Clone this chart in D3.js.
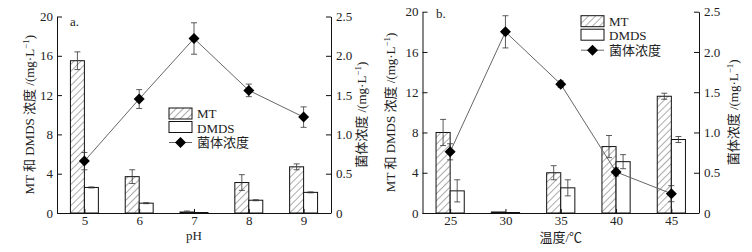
<!DOCTYPE html>
<html>
<head>
<meta charset="utf-8">
<script src="https://cdn.jsdelivr.net/npm/d3@7"></script>
<style>
    body { margin: 0; background: #fff; }
    .axis path, .axis line { stroke: #111; }
</style>
</head>
<body>
<div id="main_div" style="width:752px;height:252px"></div>
<script>
/** data: panel a (pH) **/
const phCats = ["5", "6", "7", "8", "9"];
const phMT = [15.5, 3.7, 0.1, 3.1, 4.7];
const phMTErr = [0.9, 0.7, 0.1, 0.8, 0.3];
const phDMDS = [2.6, 1.0, 0.05, 1.3, 2.1];
const phDMDSErr = [0.05, 0.05, 0, 0.05, 0.05];
const phCell = [0.66, 1.45, 2.22, 1.56, 1.22];
const phCellErr = [0.11, 0.12, 0.2, 0.08, 0.13];

/** data: panel b (temperature) **/
const tCats = ["25", "30", "35", "40", "45"];
const tMT = [8.0, 0.1, 4.0, 6.6, 11.6];
const tMTErr = [1.3, 0, 0.7, 1.1, 0.3];
const tDMDS = [2.2, 0.05, 2.5, 5.1, 7.3];
const tDMDSErr = [1.1, 0, 0.8, 0.7, 0.3];
const tCell = [0.76, 2.25, 1.60, 0.51, 0.24];
const tCellErr = [0.1, 0.2, 0.04, 0.05, 0.1];

const leftTicks = [0, 4, 8, 12, 16, 20];
const rightTicks = [0, 0.5, 1.0, 1.5, 2.0, 2.5];

const FONT = "'Liberation Serif', 'Times New Roman', 'Noto Sans CJK SC', serif";

let svg = d3.select("#main_div").append("svg")
    .attr("width", 752).attr("height", 252)
    .attr("font-family", FONT);

// hatch for MT bars
svg.append("defs").append("pattern")
    .attr("id", "hatch")
    .attr("patternUnits", "userSpaceOnUse")
    .attr("width", 5).attr("height", 5)
    .attr("patternTransform", "rotate(45)")
    .append("line")
    .attr("x1", 0).attr("y1", 0).attr("x2", 0).attr("y2", 5)
    .attr("stroke", "#444").attr("stroke-width", 0.9);

drawPanel({
    x0: 57, x1: 331, yTop: 16.5, yBot: 213,
    cats: phCats, mt: phMT, mtErr: phMTErr, dmds: phDMDS, dmdsErr: phDMDSErr,
    cell: phCell, cellErr: phCellErr,
    tag: "a.", tagX: 70, tagY: 26,
    xTitle: "pH", xTitleY: 240,
    leftTitleX: 29, rightTitleX: 361,
    legX: 169, legY: 108
});

drawPanel({
    x0: 422.5, x1: 699, yTop: 11.7, yBot: 213,
    cats: tCats, mt: tMT, mtErr: tMTErr, dmds: tDMDS, dmdsErr: tDMDSErr,
    cell: tCell, cellErr: tCellErr,
    tag: "b.", tagX: 436, tagY: 18,
    xTitle: "温度/℃", xTitleY: 242,
    leftTitleX: 390, rightTitleX: 733,
    legX: 581, legY: 15.7
});

// serif everywhere, overriding the axis default
svg.selectAll("text").style("font-family", FONT).style("fill", "#222");

function diamond(g, cx, cy, r) {
    g.append("path")
        .attr("d", "M" + cx + "," + (cy - r) + "L" + (cx + r) + "," + cy +
            "L" + cx + "," + (cy + r) + "L" + (cx - r) + "," + cy + "Z")
        .attr("fill", "#000");
}

function errBar(g, cx, y1, y2) {
    g.append("line").attr("x1", cx).attr("x2", cx).attr("y1", y1).attr("y2", y2)
        .attr("stroke", "#333").attr("stroke-width", 0.8);
    [y1, y2].forEach(function (y) {
        g.append("line").attr("x1", cx - 3).attr("x2", cx + 3).attr("y1", y).attr("y2", y)
            .attr("stroke", "#333").attr("stroke-width", 0.8);
    });
}

function drawPanel(c) {
    let g = svg.append("g");

    let xScale = d3.scalePoint().domain(c.cats).range([c.x0, c.x1]).padding(0.5);
    let step = xScale.step();
    let bw = step * 0.255;
    let yScale = d3.scaleLinear().domain([0, 20]).range([c.yBot, c.yTop]);
    let y2Scale = d3.scaleLinear().domain([0, 2.5]).range([c.yBot, c.yTop]);

    /** bars **/
    g.selectAll(".mt").data(c.cats).enter().append("rect")
        .attr("x", function (d) { return xScale(d) - bw })
        .attr("y", function (d, i) { return yScale(c.mt[i]) })
        .attr("width", bw)
        .attr("height", function (d, i) { return c.yBot - yScale(c.mt[i]) })
        .attr("fill", "url(#hatch)").attr("stroke", "#111").attr("stroke-width", 1);

    g.selectAll(".dmds").data(c.cats).enter().append("rect")
        .attr("x", function (d) { return xScale(d) })
        .attr("y", function (d, i) { return yScale(c.dmds[i]) })
        .attr("width", bw)
        .attr("height", function (d, i) { return c.yBot - yScale(c.dmds[i]) })
        .attr("fill", "#fff").attr("stroke", "#111").attr("stroke-width", 1);

    c.cats.forEach(function (d, i) {
        if (c.mtErr[i] > 0) errBar(g, xScale(d) - bw / 2, yScale(c.mt[i] - c.mtErr[i]), yScale(c.mt[i] + c.mtErr[i]));
        if (c.dmdsErr[i] > 0) errBar(g, xScale(d) + bw / 2, yScale(c.dmds[i] - c.dmdsErr[i]), yScale(c.dmds[i] + c.dmdsErr[i]));
    });

    /** cell line **/
    let line = d3.line()
        .x(function (d, i) { return xScale(c.cats[i]) })
        .y(function (d) { return y2Scale(d) });
    g.append("path").datum(c.cell)
        .attr("d", line).attr("fill", "none")
        .attr("stroke", "#666").attr("stroke-width", 1);
    c.cats.forEach(function (d, i) {
        errBar(g, xScale(d), y2Scale(c.cell[i] - c.cellErr[i]), y2Scale(c.cell[i] + c.cellErr[i]));
        diamond(g, xScale(d), y2Scale(c.cell[i]), 5.5);
    });

    /** axes **/
    let xAxis = d3.axisBottom(xScale).tickSizeInner(-4).tickSizeOuter(0).tickPadding(3);
    let xg = g.append("g").attr("class", "axis")
        .attr("transform", "translate(0," + c.yBot + ")").call(xAxis);
    xg.select(".domain").attr("d", "M" + c.x0 + ",0.5H" + c.x1);
    xg.selectAll("text").attr("font-size", 13);

    let yAxis = d3.axisLeft(yScale).tickValues(leftTicks).tickSizeInner(-5).tickSizeOuter(0).tickPadding(4);
    let yg = g.append("g").attr("class", "axis")
        .attr("transform", "translate(" + c.x0 + ",0)").call(yAxis);
    yg.selectAll("text").attr("font-size", 13);

    let y2Axis = d3.axisRight(y2Scale).tickValues(rightTicks)
        .tickFormat(function (d) { return d === 0 ? "0" : d3.format(".1f")(d) })
        .tickSizeInner(-5).tickSizeOuter(0).tickPadding(5);
    let y2g = g.append("g").attr("class", "axis")
        .attr("transform", "translate(" + c.x1 + ",0)").call(y2Axis);
    y2g.selectAll("text").attr("font-size", 13);

    /** titles **/
    g.append("text").text(c.tag)
        .attr("x", c.tagX).attr("y", c.tagY).attr("font-size", 13);

    g.append("text").text(c.xTitle)
        .attr("x", (c.x0 + c.x1) / 2).attr("y", c.xTitleY)
        .attr("text-anchor", "middle").attr("font-size", 13);

    let midY = (c.yTop + c.yBot) / 2;
    let lt = g.append("text")
        .attr("transform", "translate(" + c.leftTitleX + "," + midY + ") rotate(-90)")
        .attr("text-anchor", "middle").attr("dy", "0.35em").attr("font-size", 13);
    lt.append("tspan").text("MT 和 DMDS 浓度 /(mg·L");
    lt.append("tspan").text("−1").attr("font-size", 9).attr("dy", -5);
    lt.append("tspan").text(")").attr("dy", 5);

    let rt = g.append("text")
        .attr("transform", "translate(" + c.rightTitleX + "," + midY + ") rotate(-90)")
        .attr("text-anchor", "middle").attr("dy", "0.35em").attr("font-size", 13);
    rt.append("tspan").text("菌体浓度 /(mg·L");
    rt.append("tspan").text("−1").attr("font-size", 9).attr("dy", -5);
    rt.append("tspan").text(")").attr("dy", 5);

    /** legend **/
    let lg = g.append("g").attr("transform", "translate(" + c.legX + "," + c.legY + ")");
    lg.append("rect").attr("x", 0).attr("y", 0).attr("width", 23).attr("height", 11)
        .attr("fill", "url(#hatch)").attr("stroke", "#111");
    lg.append("rect").attr("x", 0).attr("y", 13.5).attr("width", 23).attr("height", 11)
        .attr("fill", "#fff").attr("stroke", "#111");
    lg.append("line").attr("x1", 0).attr("x2", 23).attr("y1", 34.5).attr("y2", 34.5)
        .attr("stroke", "#666");
    diamond(lg, 11.5, 34.5, 5.5);
    let labels = ["MT", "DMDS", "菌体浓度"];
    labels.forEach(function (t, i) {
        lg.append("text").text(t)
            .attr("x", 28).attr("y", 5.5 + i * 14.5)
            .attr("dy", "0.35em").attr("font-size", 13);
    });
}
</script>
</body>
</html>
